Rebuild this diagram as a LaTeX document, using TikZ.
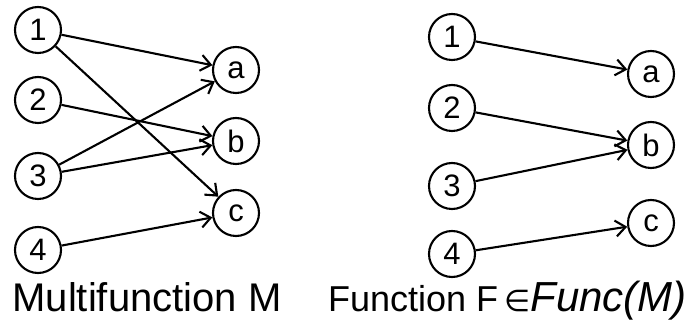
\documentclass[tikz,border=0pt]{standalone}
\usepackage{fontspec}
\setmainfont{Liberation Sans}
\newfontfamily\symbfont{DejaVu Sans}
\usetikzlibrary{arrows.meta}

\tikzset{
  vert/.style={circle, draw, line width=2.1pt, minimum size=46pt, inner sep=0pt,
               font=\fontsize{31}{31}\selectfont},
  edge/.style={line width=2.1pt, -{Straight Barb[length=10pt,width=16pt,line width=2.1pt]}}
}

\begin{document}
\begin{tikzpicture}[x=1pt, y=1pt]
    \useasboundingbox (0,0) rectangle (686,321);

    % Left side: the multifunction
    \foreach \n/\y in {1/291,2/221,3/145,4/71} \node[vert] (l\n) at (38,\y) {\n};
    \foreach \n/\y in {a/251,b/180,c/108} \node[vert] (l\n) at (236,\y) {\n};
    \foreach \s/\t in {1/a,1/c,2/b,3/a,3/b,4/c} \draw[edge] (l\s) -- (l\t);

    % Right side: one function chosen from it
    \foreach \n/\y in {1/284,2/213,3/135,4/67} \node[vert] (r\n) at (452,\y) {\n};
    \foreach \n/\y in {a/247,b/176,c/98} \node[vert] (r\n) at (651,\y) {\n};
    \foreach \s/\t in {1/a,2/b,3/b,4/c} \draw[edge] (r\s) -- (r\t);

    % Captions
    \node[anchor=base, inner sep=0pt, font=\fontsize{40}{40}\selectfont] (capl) at (147,9) {Multifunction M};
    \node[anchor=base west, inner sep=0pt, font=\fontsize{36}{36}\selectfont] (capr) at (328,9)
        {Function F\,{\symbfont\fontsize{30}{30}\selectfont ∈}{\fontsize{42}{42}\selectfont\itshape Func(M)}};
\end{tikzpicture}
\end{document}
